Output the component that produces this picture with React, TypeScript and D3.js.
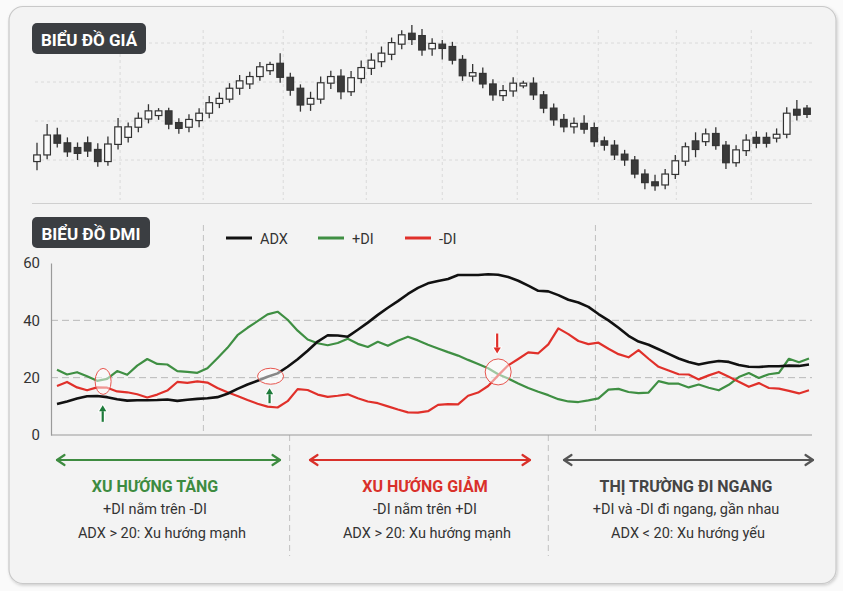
import { useEffect, useRef } from 'react';
import * as d3 from 'd3';

// Daily candles (price units)
const opens = [
  99.6, 101.3, 106.4, 104.4, 103.2, 104.4, 102.7, 99.6, 104.0, 105.8,
  108.4, 110.5, 111.4, 112.6, 109.6, 108.4, 110.1, 112.0, 114.5, 115.6,
  118.4, 119.5, 121.4, 122.9, 124.8, 121.2, 118.4, 114.3, 115.6, 119.7,
  121.5, 117.5, 120.9, 123.5, 125.2, 127.1, 129.7, 132.5, 131.9, 128.5,
  129.7, 129.1, 125.8, 121.5, 122.2, 119.5, 116.5, 117.7, 119.0, 119.7,
  116.7, 113.3, 110.4, 108.5, 109.4, 108.3, 104.9, 103.8, 101.5, 100.0,
  96.4, 94.4, 93.6, 96.3, 99.7, 104.9, 104.7, 106.8, 103.8, 99.3,
  102.4, 105.8, 105.8, 105.6, 106.6, 113.0, 113.3,
];
const closes = [
  101.3, 106.4, 104.3, 102.1, 101.7, 102.3, 99.6, 104.1, 108.5, 108.5,
  110.7, 112.6, 112.6, 109.2, 108.1, 110.4, 112.0, 114.7, 115.8, 118.4,
  120.3, 121.4, 123.9, 124.5, 121.2, 117.9, 114.1, 115.8, 119.8, 121.4,
  117.5, 121.1, 123.7, 125.6, 127.4, 130.1, 132.1, 130.9, 128.2, 129.9,
  128.6, 125.6, 121.6, 122.4, 119.5, 116.7, 117.8, 119.7, 119.7, 116.7,
  113.3, 110.3, 108.5, 109.4, 107.9, 104.7, 103.8, 101.3, 100.0, 96.4,
  94.2, 93.4, 96.4, 99.8, 103.4, 102.7, 106.7, 103.7, 99.3, 102.6,
  105.1, 104.3, 104.3, 106.6, 112.0, 111.5, 111.7,
];
const highs = [
  104.4, 109.2, 108.3, 105.8, 104.5, 106.0, 104.3, 106.0, 110.8, 109.6,
  112.2, 114.3, 113.3, 113.4, 110.7, 111.7, 113.3, 116.4, 117.3, 119.7,
  121.8, 122.6, 125.1, 125.2, 127.4, 122.4, 119.4, 117.5, 121.4, 122.9,
  123.3, 122.8, 125.5, 127.4, 129.1, 131.4, 133.3, 134.6, 133.6, 131.2,
  130.8, 130.3, 126.9, 124.6, 123.7, 120.7, 119.2, 121.2, 120.3, 121.2,
  117.7, 114.5, 111.8, 110.9, 111.5, 109.6, 106.0, 105.1, 102.6, 101.0,
  97.6, 96.2, 97.7, 101.3, 104.5, 107.1, 108.1, 108.4, 104.9, 103.8,
  106.6, 107.4, 107.1, 108.1, 113.5, 115.4, 114.1,
];
const lows = [
  97.4, 100.2, 103.2, 100.8, 100.0, 100.8, 98.3, 98.5, 102.7, 104.5,
  107.1, 109.4, 110.3, 107.9, 106.7, 107.1, 108.4, 110.7, 113.3, 114.7,
  116.7, 118.2, 120.3, 121.8, 119.8, 116.5, 112.4, 112.6, 114.4, 118.2,
  115.6, 116.4, 119.7, 121.8, 123.8, 125.6, 128.4, 129.5, 126.7, 126.7,
  125.8, 124.5, 120.3, 120.1, 118.4, 115.2, 115.1, 116.2, 118.4, 115.4,
  112.0, 108.8, 107.1, 106.8, 106.7, 103.4, 102.4, 100.0, 98.5, 95.3,
  92.5, 92.1, 92.5, 95.1, 98.5, 100.7, 103.6, 102.6, 97.7, 98.3,
  101.0, 103.0, 103.2, 104.5, 105.6, 110.1, 110.8,
];
const priceTicks = [100, 110, 120, 130];
const priceGridIdx = [8.2, 16.4, 24.3, 32.5, 40, 47.4, 55.4, 63.1, 70.5];

// DMI indicator values
const adx = [
  10.8, 11.7, 12.7, 13.5, 13.6, 13.2, 12.5, 12.0, 12.1, 12.1,
  12.2, 12.4, 11.9, 12.3, 12.6, 12.8, 13.2, 14.4, 16.1, 17.6,
  18.9, 20.3, 21.5, 23.8, 26.4, 29.4, 32.6, 34.8, 34.7, 34.3,
  36.7, 39.2, 41.9, 44.4, 46.7, 49.2, 51.3, 52.9, 53.7, 54.4,
  55.8, 55.8, 55.8, 56.1, 55.9, 55.1, 53.8, 52.1, 50.3, 50.1,
  48.8, 47.2, 46.2, 44.7, 42.2, 40.0, 37.4, 34.6, 32.6, 31.5,
  29.9, 28.3, 26.7, 25.5, 24.6, 25.3, 25.8, 25.5, 24.4, 23.8,
  23.7, 24.0, 24.0, 24.2, 24.1, 24.6,
];
const plusDI = [
  22.8, 21.1, 21.9, 20.5, 18.9, 19.6, 22.3, 21.0, 24.2, 26.5,
  24.8, 24.6, 22.3, 22.0, 21.7, 23.3, 26.8, 30.4, 34.8, 37.4,
  39.7, 42.1, 43.0, 40.2, 36.4, 33.3, 32.0, 31.3, 32.1, 33.6,
  31.8, 30.7, 32.5, 31.1, 32.9, 34.3, 33.0, 31.5, 30.2, 28.9,
  27.7, 26.2, 24.8, 23.3, 21.2, 19.7, 18.0, 16.4, 15.1, 13.9,
  12.5, 11.7, 11.5, 12.1, 12.8, 15.8, 16.1, 15.0, 14.6, 14.8,
  18.8, 17.9, 17.9, 16.6, 17.6, 16.5, 15.6, 17.5, 20.2, 21.6,
  19.9, 21.2, 21.7, 26.6, 25.4, 26.7,
];
const minusDI = [
  17.1, 18.5, 16.6, 15.6, 16.6, 16.5, 15.2, 14.9, 14.2, 13.1,
  14.1, 15.5, 18.5, 18.2, 18.7, 18.3, 16.4, 14.9, 13.6, 12.2,
  10.9, 9.9, 9.6, 11.8, 16.0, 15.7, 14.1, 13.3, 13.7, 14.2,
  12.8, 11.7, 11.1, 10.0, 8.9, 7.9, 7.8, 8.3, 10.5, 10.8,
  10.7, 13.7, 14.8, 17.1, 20.8, 24.3, 26.5, 28.8, 28.5, 31.6,
  37.2, 35.2, 32.8, 31.7, 32.2, 30.1, 28.2, 27.1, 29.6, 26.6,
  23.8, 22.5, 21.2, 21.1, 19.4, 20.8, 22.0, 20.3, 18.6, 16.8,
  18.1, 16.4, 16.2, 15.4, 14.5, 15.6,
];
const dmiTicks = [0, 20, 40, 60];
const dmiLevels = [20, 40];
const phaseBreaks = [14.6, 53.7];
const sectionBreaks = [23.2, 49.0];

// highlighted crossings and pointer arrows (index / DI value)
const crossMarks = [
  { i: 4.6, v: 18.7, rx: 8, ry: 13 },
  { i: 21.3, v: 20.5, rx: 13, ry: 8 },
  { i: 44.0, v: 22.0, rx: 13, ry: 13 },
];
const pointers = [
  { i: 4.56, from: 4.6, to: 10.4, color: '#1e7a3a' },
  { i: 21.2, from: 11.1, to: 16.3, color: '#1e7a3a' },
  { i: 43.9, from: 35.4, to: 28.4, color: '#e0302a' },
];

const seriesNames = ['ADX', '+DI', '-DI'];
const seriesColors = ['#111111', '#3f8f43', '#e0302a'];

const phaseTitles = ['XU HƯỚNG TĂNG', 'XU HƯỚNG GIẢM', 'THỊ TRƯỜNG ĐI NGANG'];
const phaseColors = ['#3d8b40', '#d9302a', '#444444'];
const phaseLine1 = ['+DI nằm trên -DI', '-DI nằm trên +DI', '+DI và -DI đi ngang, gần nhau'];
const phaseLine2 = ['ADX > 20: Xu hướng mạnh', 'ADX > 20: Xu hướng mạnh', 'ADX < 20: Xu hướng yếu'];

const FONT = 'Roboto, "Noto Sans", sans-serif';

export default function App() {
  const svgRef = useRef<SVGSVGElement | null>(null);

  useEffect(() => {
    document.body.style.margin = '0';
    if (!svgRef.current) return;
    const svg = d3.select(svgRef.current);
    svg.selectAll('*').remove();

    const width = 843;
    const height = 591;
    svg.attr('viewBox', `0 0 ${width} ${height}`);

    const defs = svg.append('defs');
    const shadow = defs.append('filter').attr('id', 'card-shadow').attr('x', '-5%').attr('y', '-5%').attr('width', '110%').attr('height', '110%');
    shadow.append('feDropShadow').attr('dx', 1).attr('dy', 1.5).attr('stdDeviation', 1.5).attr('flood-opacity', 0.18);

    svg.append('rect').attr('width', width).attr('height', height).attr('fill', '#fafafa');
    svg
      .append('rect')
      .attr('x', 9)
      .attr('y', 6.5)
      .attr('width', 827)
      .attr('height', 577)
      .attr('rx', 14)
      .attr('fill', '#f3f3f3')
      .attr('stroke', '#c9c9c9')
      .attr('stroke-width', 1.2)
      .attr('filter', 'url(#card-shadow)');

    // ---------- price panel ----------
    const xP = d3.scaleLinear().domain([0, opens.length - 1]).range([37, 807]);
    const yP = d3.scaleLinear().domain([100, 130]).range([160, 43]);

    const pGrid = svg.append('g').attr('stroke', '#dadada').attr('stroke-dasharray', '3,3').attr('stroke-width', 1);
    pGrid
      .selectAll('line.h')
      .data(priceTicks)
      .join('line')
      .attr('x1', 35)
      .attr('x2', 812)
      .attr('y1', (d) => yP(d))
      .attr('y2', (d) => yP(d));
    pGrid
      .selectAll('line.v')
      .data(priceGridIdx)
      .join('line')
      .attr('x1', (d) => xP(d))
      .attr('x2', (d) => xP(d))
      .attr('y1', 30)
      .attr('y2', 200);

    const candles = opens.map((o, i) => ({ i, o, c: closes[i], h: highs[i], l: lows[i] }));
    const bodyW = 6.6;
    const cg = svg.append('g');
    cg.selectAll('line')
      .data(candles)
      .join('line')
      .attr('x1', (d) => xP(d.i))
      .attr('x2', (d) => xP(d.i))
      .attr('y1', (d) => yP(d.h))
      .attr('y2', (d) => yP(d.l))
      .attr('stroke', '#333')
      .attr('stroke-width', 1.3);
    cg.selectAll('rect')
      .data(candles)
      .join('rect')
      .attr('x', (d) => xP(d.i) - bodyW / 2)
      .attr('y', (d) => yP(Math.max(d.o, d.c)))
      .attr('width', bodyW)
      .attr('height', (d) => Math.max(1.5, Math.abs(yP(d.o) - yP(d.c))))
      .attr('fill', (d) => (d.c >= d.o ? '#fafafa' : '#3a3a3a'))
      .attr('stroke', '#333')
      .attr('stroke-width', 1.2);

    const badge = (x: number, y: number, w: number, label: string) => {
      svg.append('rect').attr('x', x).attr('y', y).attr('width', w).attr('height', 31).attr('rx', 5).attr('fill', '#3b3e42');
      svg
        .append('text')
        .attr('x', x + w / 2)
        .attr('y', y + 23)
        .attr('text-anchor', 'middle')
        .attr('fill', '#fff')
        .attr('font-family', FONT)
        .attr('font-weight', 700)
        .attr('font-size', 17)
        .text(label);
    };
    badge(32, 23, 114, 'BIỂU ĐỒ GIÁ');

    svg.append('line').attr('x1', 32).attr('x2', 812).attr('y1', 203.5).attr('y2', 203.5).attr('stroke', '#cfcfcf').attr('stroke-width', 1);

    // ---------- DMI panel ----------
    const xD = d3.scaleLinear().domain([0, adx.length - 1]).range([57, 809]);
    const yD = d3.scaleLinear().domain([0, 60]).range([435, 263]);

    svg
      .append('g')
      .selectAll('line')
      .data(dmiLevels)
      .join('line')
      .attr('x1', 51)
      .attr('x2', 812)
      .attr('y1', (d) => yD(d))
      .attr('y2', (d) => yD(d))
      .attr('stroke', '#b8b8b8')
      .attr('stroke-dasharray', '7,4');

    svg
      .append('g')
      .selectAll('line')
      .data(phaseBreaks)
      .join('line')
      .attr('x1', (d) => xD(d))
      .attr('x2', (d) => xD(d))
      .attr('y1', 225)
      .attr('y2', yD(0))
      .attr('stroke', '#c0c0c0')
      .attr('stroke-dasharray', '6,4');

    svg
      .append('g')
      .selectAll('line')
      .data(sectionBreaks)
      .join('line')
      .attr('x1', (d) => xD(d))
      .attr('x2', (d) => xD(d))
      .attr('y1', yD(0))
      .attr('y2', 556)
      .attr('stroke', '#c0c0c0')
      .attr('stroke-dasharray', '6,4');

    const yAxis = svg
      .append('g')
      .attr('transform', 'translate(51,0)')
      .call(d3.axisLeft(yD).tickValues(dmiTicks).tickSize(0).tickPadding(11));
    yAxis.select('.domain').attr('stroke', '#9a9a9a').attr('stroke-width', 1.2);
    yAxis.selectAll('text').attr('fill', '#333').style('font-size', '15px').style('font-family', FONT);

    svg.append('line').attr('x1', 51).attr('x2', 812).attr('y1', yD(0)).attr('y2', yD(0)).attr('stroke', '#9a9a9a').attr('stroke-width', 1.2);

    const line = d3
      .line<number>()
      .x((_, i) => xD(i))
      .y((d) => yD(d));
    const series = [adx, plusDI, minusDI];
    const order = [1, 2, 0];
    order.forEach((k) => {
      svg
        .append('path')
        .datum(series[k])
        .attr('fill', 'none')
        .attr('stroke', seriesColors[k])
        .attr('stroke-width', k === 0 ? 2.6 : 2.2)
        .attr('stroke-linejoin', 'round')
        .attr('d', line);
    });

    svg
      .append('g')
      .selectAll('ellipse')
      .data(crossMarks)
      .join('ellipse')
      .attr('cx', (d) => xD(d.i))
      .attr('cy', (d) => yD(d.v))
      .attr('rx', (d) => d.rx)
      .attr('ry', (d) => d.ry)
      .attr('fill', 'rgba(255,255,255,0.5)')
      .attr('stroke', '#e8554e')
      .attr('stroke-width', 1);

    pointers.forEach((p) => {
      const x = xD(p.i);
      const y0 = yD(p.from);
      const y1 = yD(p.to);
      const dir = y1 < y0 ? -1 : 1;
      const head = 6;
      const shaft = `M${x},${y0}L${x},${y1 - dir * head}`;
      const tip = `M${x},${y1}L${x - 3.6},${y1 - dir * head}L${x + 3.6},${y1 - dir * head}Z`;
      const g = svg.append('g');
      g.append('path').attr('d', shaft).attr('stroke', '#fff').attr('stroke-width', 4.5);
      g.append('path').attr('d', tip).attr('fill', '#fff').attr('stroke', '#fff').attr('stroke-width', 2);
      g.append('path').attr('d', shaft).attr('stroke', p.color).attr('stroke-width', 2.2);
      g.append('path').attr('d', tip).attr('fill', p.color);
    });

    badge(32, 217, 118, 'BIỂU ĐỒ DMI');

    // legend
    const legendX = [226, 318, 405];
    const lg = svg.append('g');
    seriesNames.forEach((name, k) => {
      lg.append('line')
        .attr('x1', legendX[k])
        .attr('x2', legendX[k] + 26)
        .attr('y1', 238)
        .attr('y2', 238)
        .attr('stroke', seriesColors[k])
        .attr('stroke-width', 3);
      lg.append('text')
        .attr('x', legendX[k] + 34)
        .attr('y', 243.5)
        .attr('fill', '#333')
        .attr('font-family', FONT)
        .attr('font-size', 14.5)
        .text(name);
    });

    // ---------- phase notes ----------
    const spans = [
      [57, 280],
      [310, 530],
      [564, 813],
    ];
    const centers = [155, 425, 686];
    const arrowY = 460;
    phaseTitles.forEach((title, k) => {
      const [a, b] = spans[k];
      const col = k === 2 ? '#555' : phaseColors[k];
      const g = svg.append('g').attr('stroke', col).attr('stroke-width', 2.2).attr('fill', 'none').attr('stroke-linecap', 'round').attr('stroke-linejoin', 'round');
      g.append('line').attr('x1', a).attr('x2', b).attr('y1', arrowY).attr('y2', arrowY);
      g.append('path').attr('d', `M${a + 7.5},${arrowY - 5}L${a},${arrowY}L${a + 7.5},${arrowY + 5}`);
      g.append('path').attr('d', `M${b - 7.5},${arrowY - 5}L${b},${arrowY}L${b - 7.5},${arrowY + 5}`);

      const t = svg.append('g').attr('font-family', FONT).attr('text-anchor', 'middle');
      t.append('text')
        .attr('x', centers[k])
        .attr('y', 491.5)
        .attr('fill', phaseColors[k])
        .attr('font-weight', 700)
        .attr('font-size', 16)
        .text(title);
      t.append('text').attr('x', centers[k]).attr('y', 514).attr('fill', '#333').attr('font-size', 14.5).text(phaseLine1[k]);
      t.append('text')
        .attr('x', centers[k] + (k === 0 ? 7 : 2))
        .attr('y', 538)
        .attr('fill', '#333')
        .attr('font-size', 14.5)
        .text(phaseLine2[k]);
    });
  }, []);

  return <svg ref={svgRef} width={843} height={591} style={{ display: 'block' }} role="img" aria-label="DMI chart" />;
}
